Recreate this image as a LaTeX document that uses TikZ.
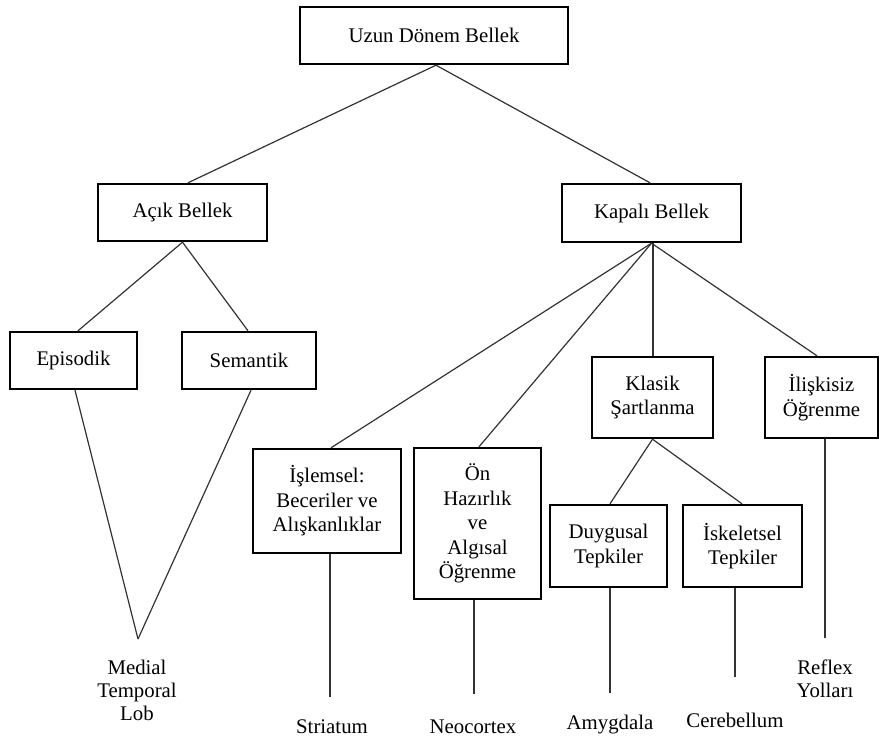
\documentclass[tikz,border=0pt]{standalone}
\usepackage{fontspec}
\setmainfont{Liberation Serif}
\begin{document}
\begin{tikzpicture}[x=1pt,y=-1pt,
  box/.style={draw=black, line width=2.4pt, inner sep=0pt, align=center,
    font=\fontsize{20.8}{24.5}\selectfont},
  lbl/.style={inner sep=0pt, align=center,
    font=\fontsize{20.8}{23}\selectfont},
  link/.style={draw=black!80, line width=1.2pt}]
\useasboundingbox (0,0) rectangle (879,738);

% --- hierarchy boxes ---
\node[box, minimum width=268pt, minimum height=57pt] (top) at (434,35.5) {Uzun Dönem Bellek};
\node[box, minimum width=169pt, minimum height=57pt] (acik) at (182.5,212.5) {Açık Bellek};
\node[box, minimum width=179pt, minimum height=58pt] (kapali) at (651.5,213) {Kapalı Bellek};
\node[box, minimum width=127pt, minimum height=57pt] (epi) at (73.5,360.5) {Episodik};
\node[box, minimum width=134pt, minimum height=57pt] (sem) at (249,360.5) {Semantik};
\node[box, minimum width=121pt, minimum height=81pt] (klasik) at (652.5,397.5) {Klasik\\Şartlanma};
\node[box, minimum width=113pt, minimum height=81pt] (ilis) at (821.5,397.5) {İlişkisiz\\Öğrenme};
\node[box, minimum width=148pt, minimum height=104pt] (islem) at (327,501) {İşlemsel:\\Beceriler ve\\Alışkanlıklar};
\node[box, minimum width=127pt, minimum height=151pt] (onh) at (477.5,523.5) {Ön\\Hazırlık\\ve\\Algısal\\Öğrenme};
\node[box, minimum width=117pt, minimum height=82pt] (duy) at (608.5,546) {Duygusal\\Tepkiler};
\node[box, minimum width=119pt, minimum height=82pt] (isk) at (742.5,546) {İskeletsel\\Tepkiler};

% --- brain region labels ---
\node[lbl] (mtl) at (137,690) {Medial\\Temporal\\Lob};
\node[lbl, anchor=base] (stri) at (332,733) {Striatum};
\node[lbl, anchor=base] (neo) at (473,733) {Neocortex};
\node[lbl, anchor=base] (amy) at (610,729) {Amygdala};
\node[lbl, anchor=base] (cer) at (735,727) {Cerebellum};
\node[lbl] (refl) at (825,679) {Reflex\\Yolları};

% --- free ends of the region connectors ---
\coordinate (apex) at (138,639);
\coordinate (eStri) at (330,697);
\coordinate (eNeo) at (474,694);
\coordinate (eAmy) at (610,693);
\coordinate (eCer) at (735,677);
\coordinate (eRefl) at (825,638);

% --- tree connectors ---
\draw[link] ([xshift=2pt]top.south) -- ([xshift=5.5pt]acik.north);
\draw[link] ([xshift=2pt]top.south) -- ([xshift=-1.5pt]kapali.north);
\draw[link] (acik.south) -- ([xshift=4.5pt]epi.north);
\draw[link] (acik.south) -- ([xshift=-1pt]sem.north);
\draw[link] ([xshift=1.5pt]epi.south) -- (apex);
\draw[link] ([xshift=2pt]sem.south) -- (apex);
\draw[link] (kapali.south) -- ([xshift=4pt]islem.north);
\draw[link] (kapali.south) -- ([xshift=1.5pt]onh.north);
\draw[link] ([xshift=1.5pt]kapali.south) -- ([xshift=0.5pt]klasik.north);
\draw[link] (kapali.south) -- ([xshift=-4.5pt]ilis.north);
\draw[link] (klasik.south) -- ([xshift=1.5pt]duy.north);
\draw[link] (klasik.south) -- ([xshift=-0.5pt]isk.north);

% --- region connectors ---
\draw[link] (islem.south -| eStri) -- (eStri);
\draw[link] (onh.south -| eNeo) -- (eNeo);
\draw[link] (duy.south -| eAmy) -- (eAmy);
\draw[link] (isk.south -| eCer) -- (eCer);
\draw[link] (ilis.south -| eRefl) -- (eRefl);
\end{tikzpicture}
\end{document}
